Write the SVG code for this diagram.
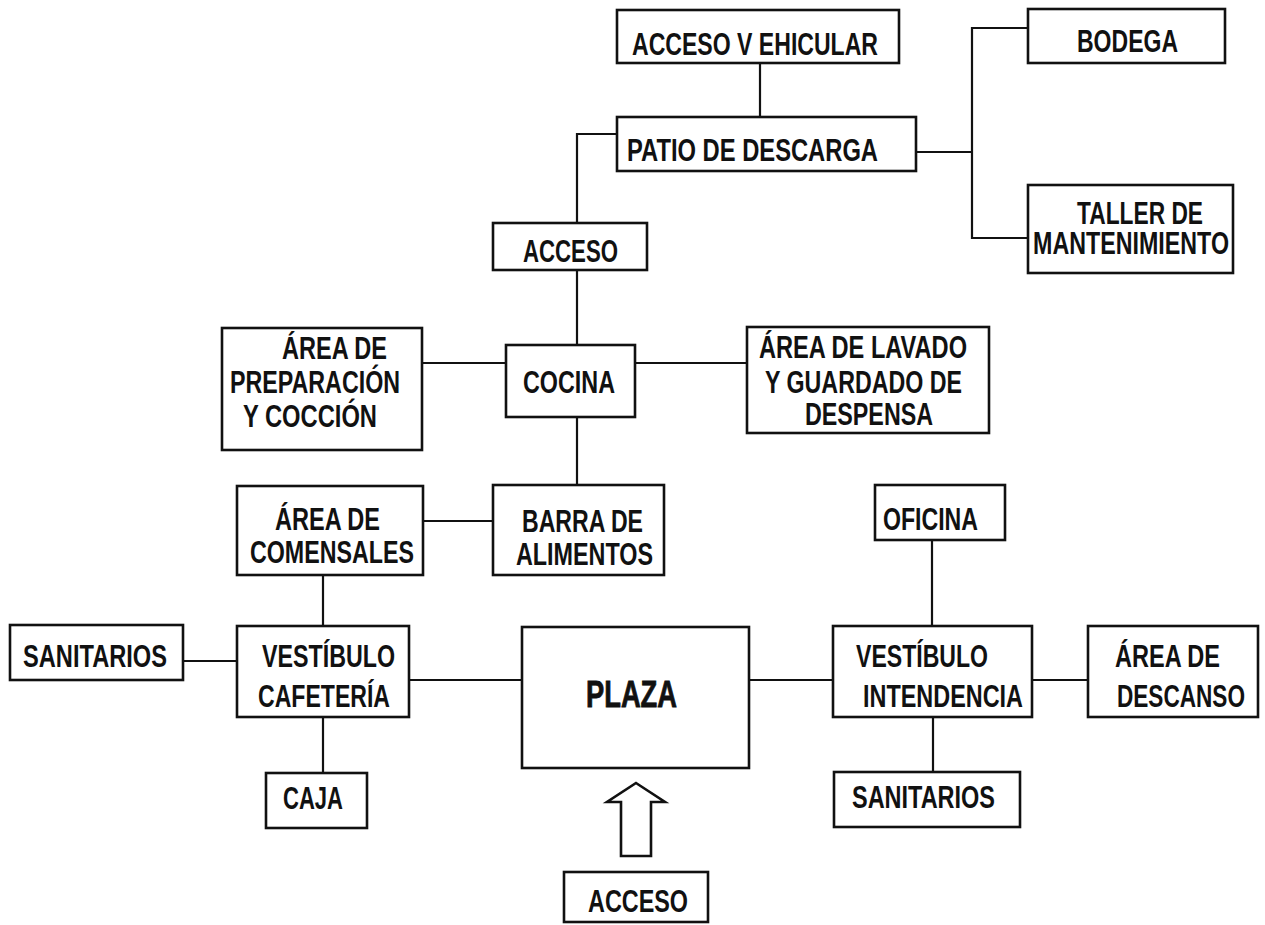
<svg xmlns="http://www.w3.org/2000/svg" width="1265" height="925" viewBox="0 0 1265 925">
<style>
.box{fill:#fff;stroke:#111;stroke-width:2.6}
.c{fill:none;stroke:#111;stroke-width:2.2}
.t{font-family:"Liberation Sans",Arial,sans-serif;font-weight:bold;font-size:32px;fill:#111}
.big{font-size:36px}
</style>
<rect width="1265" height="925" fill="#fff"/>
<g id="connectors">
<path class="c" d="M760 63V117"/>
<path class="c" d="M617 134H577V223"/>
<path class="c" d="M577 270V345"/>
<path class="c" d="M916 152H972"/>
<path class="c" d="M1028 28H972V238H1028"/>
<path class="c" d="M422 363H506"/>
<path class="c" d="M635 363H747"/>
<path class="c" d="M577 417V485"/>
<path class="c" d="M423 521H493"/>
<path class="c" d="M323 575V626"/>
<path class="c" d="M183 661H237"/>
<path class="c" d="M323 717V773"/>
<path class="c" d="M409 680H522"/>
<path class="c" d="M749 680H833"/>
<path class="c" d="M932 540V626"/>
<path class="c" d="M1032 680H1088"/>
<path class="c" d="M933 717V772"/>
<polygon id="arrow" class="box" points="636,783 665,802 651,802 651,856 621,856 621,802 607,802"/>
</g>
<g id="acceso-vehicular"><rect class="box" x="617" y="10" width="282" height="53"/><text class="t" x="632" y="55" textLength="246" lengthAdjust="spacingAndGlyphs">ACCESO V EHICULAR</text></g>
<g id="bodega"><rect class="box" x="1028" y="9" width="197" height="54"/><text class="t" x="1077" y="52" textLength="101" lengthAdjust="spacingAndGlyphs">BODEGA</text></g>
<g id="patio"><rect class="box" x="617" y="117" width="299" height="54"/><text class="t" x="627" y="161" textLength="251" lengthAdjust="spacingAndGlyphs">PATIO DE DESCARGA</text></g>
<g id="taller"><rect class="box" x="1028" y="185" width="205" height="88"/><text class="t" x="1077" y="224" textLength="126" lengthAdjust="spacingAndGlyphs">TALLER DE</text><text class="t" x="1033" y="254" textLength="196" lengthAdjust="spacingAndGlyphs">MANTENIMIENTO</text></g>
<g id="acceso-cocina"><rect class="box" x="493" y="223" width="154" height="47"/><text class="t" x="523" y="262" textLength="95" lengthAdjust="spacingAndGlyphs">ACCESO</text></g>
<g id="area-preparacion"><rect class="box" x="222" y="328" width="200" height="122"/><text class="t" x="282" y="359" textLength="105" lengthAdjust="spacingAndGlyphs">ÁREA DE</text><text class="t" x="230" y="393" textLength="170" lengthAdjust="spacingAndGlyphs">PREPARACIÓN</text><text class="t" x="243" y="427" textLength="134" lengthAdjust="spacingAndGlyphs">Y COCCIÓN</text></g>
<g id="cocina"><rect class="box" x="506" y="345" width="129" height="72"/><text class="t" x="523" y="393" textLength="92" lengthAdjust="spacingAndGlyphs">COCINA</text></g>
<g id="area-lavado"><rect class="box" x="747" y="327" width="242" height="106"/><text class="t" x="759" y="358" textLength="208" lengthAdjust="spacingAndGlyphs">ÁREA DE LAVADO</text><text class="t" x="765" y="393" textLength="197" lengthAdjust="spacingAndGlyphs">Y GUARDADO DE</text><text class="t" x="805" y="425" textLength="128" lengthAdjust="spacingAndGlyphs">DESPENSA</text></g>
<g id="area-comensales"><rect class="box" x="237" y="486" width="186" height="89"/><text class="t" x="275" y="530" textLength="105" lengthAdjust="spacingAndGlyphs">ÁREA DE</text><text class="t" x="250" y="563" textLength="164" lengthAdjust="spacingAndGlyphs">COMENSALES</text></g>
<g id="barra"><rect class="box" x="493" y="485" width="171" height="90"/><text class="t" x="522" y="532" textLength="121" lengthAdjust="spacingAndGlyphs">BARRA DE</text><text class="t" x="516" y="565" textLength="137" lengthAdjust="spacingAndGlyphs">ALIMENTOS</text></g>
<g id="oficina"><rect class="box" x="875" y="485" width="130" height="55"/><text class="t" x="883" y="530" textLength="95" lengthAdjust="spacingAndGlyphs">OFICINA</text></g>
<g id="sanitarios-cafeteria"><rect class="box" x="10" y="625" width="173" height="55"/><text class="t" x="23" y="667" textLength="144" lengthAdjust="spacingAndGlyphs">SANITARIOS</text></g>
<g id="vestibulo-cafeteria"><rect class="box" x="237" y="626" width="172" height="91"/><text class="t" x="262" y="667" textLength="133" lengthAdjust="spacingAndGlyphs">VESTÍBULO</text><text class="t" x="258" y="707" textLength="132" lengthAdjust="spacingAndGlyphs">CAFETERÍA</text></g>
<g id="plaza"><rect class="box" x="522" y="627" width="227" height="141"/><text class="t big" x="586" y="707" textLength="91" lengthAdjust="spacingAndGlyphs" stroke="#111" stroke-width="0.8">PLAZA</text></g>
<g id="caja"><rect class="box" x="266" y="773" width="101" height="55"/><text class="t" x="283" y="809" textLength="60" lengthAdjust="spacingAndGlyphs">CAJA</text></g>
<g id="acceso-plaza"><rect class="box" x="564" y="872" width="144" height="50"/><text class="t" x="588" y="912" textLength="100" lengthAdjust="spacingAndGlyphs">ACCESO</text></g>
<g id="vestibulo-intendencia"><rect class="box" x="833" y="626" width="199" height="91"/><text class="t" x="856" y="667" textLength="132" lengthAdjust="spacingAndGlyphs">VESTÍBULO</text><text class="t" x="863" y="707" textLength="160" lengthAdjust="spacingAndGlyphs">INTENDENCIA</text></g>
<g id="area-descanso"><rect class="box" x="1088" y="626" width="170" height="91"/><text class="t" x="1115" y="667" textLength="105" lengthAdjust="spacingAndGlyphs">ÁREA DE</text><text class="t" x="1117" y="707" textLength="128" lengthAdjust="spacingAndGlyphs">DESCANSO</text></g>
<g id="sanitarios-intendencia"><rect class="box" x="834" y="772" width="186" height="55"/><text class="t" x="852" y="808" textLength="143" lengthAdjust="spacingAndGlyphs">SANITARIOS</text></g>
</svg>
